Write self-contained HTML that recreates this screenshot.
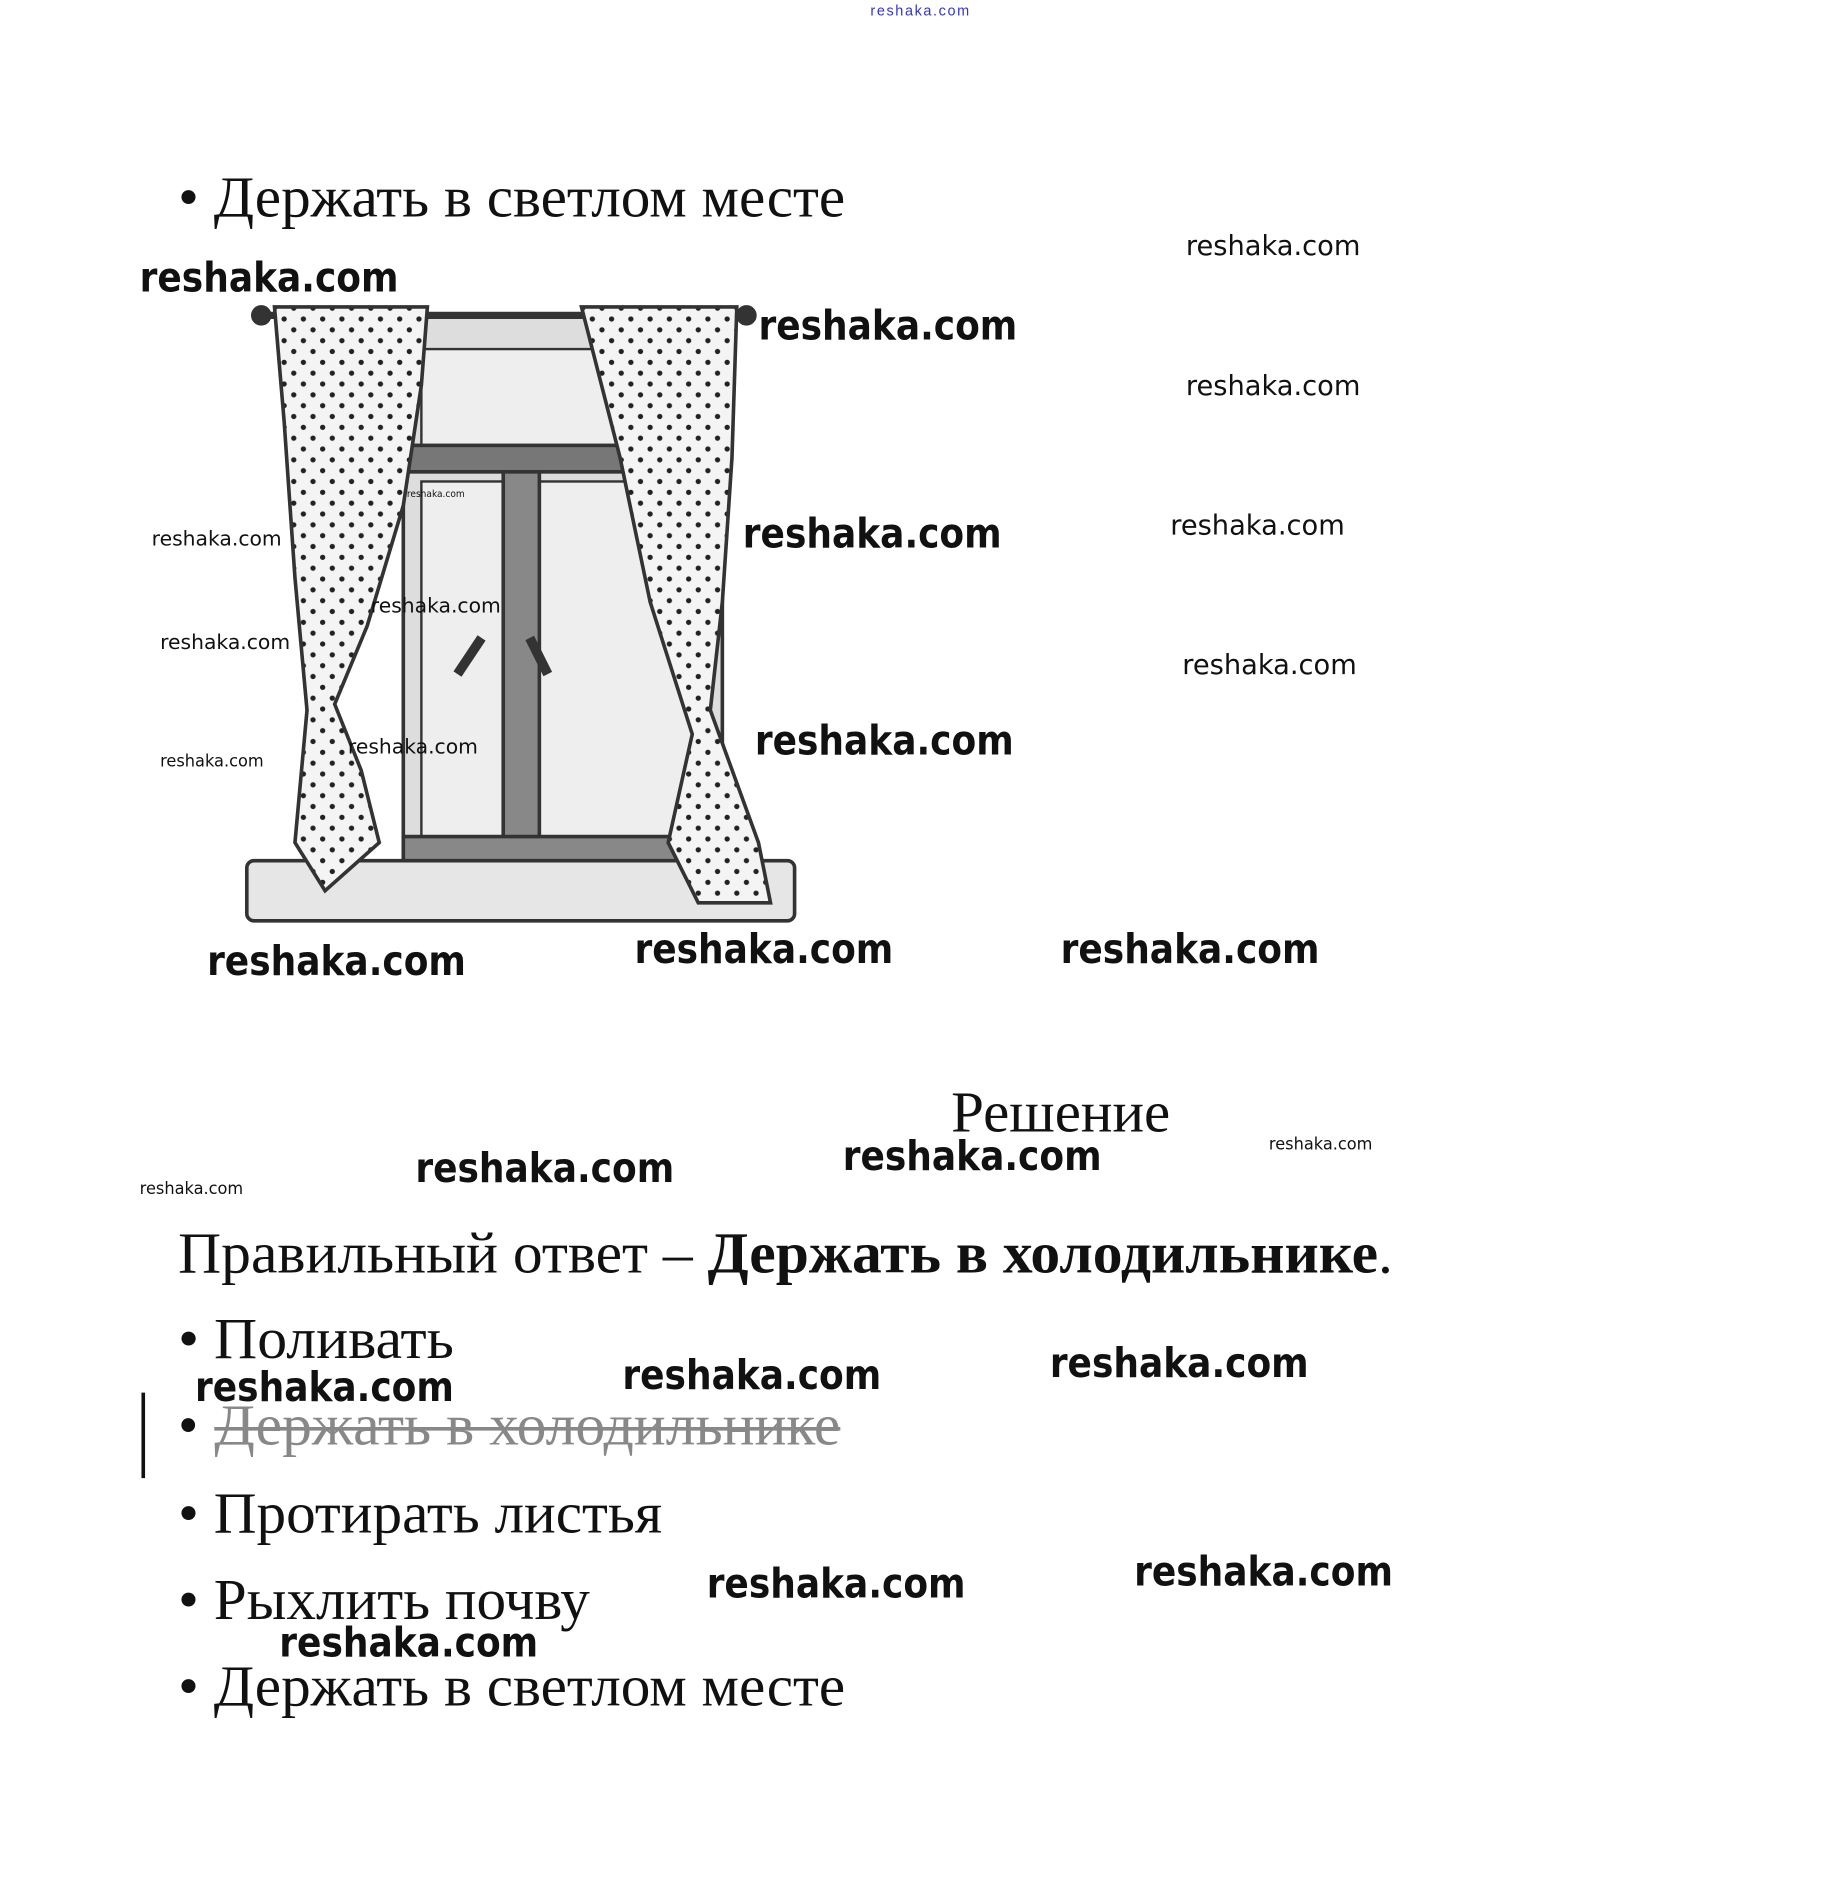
<!DOCTYPE html>
<html><head><meta charset="utf-8"><style>html,body{margin:0;padding:0;background:#fff}svg{display:block}</style></head>
<body>
<svg width="1842" height="1891" viewBox="0 0 1530 1571" preserveAspectRatio="none" xmlns="http://www.w3.org/2000/svg">
<defs>
<pattern id="dots" width="16" height="18" patternUnits="userSpaceOnUse">
<rect width="16" height="18" fill="#f4f4f4"/>
<circle cx="4" cy="4" r="2.2" fill="#222"/><circle cx="12" cy="13" r="2.2" fill="#222"/>
</pattern>
</defs>
<g font-family="'Liberation Sans', sans-serif">
<text x="723" y="13" font-size="12" fill="#3333cc" textLength="82">reshaka.com</text>
</g>
<g font-family="'Liberation Serif','Noto Serif CJK SC',serif" fill="#111">
<text x="148" y="180" font-size="48" textLength="554" lengthAdjust="spacingAndGlyphs">• Держать в светлом месте</text>
</g>
<g stroke="#333" stroke-width="3">
<rect x="335" y="262" width="265" height="450" fill="#ddd"/>
<rect x="350" y="290" width="240" height="80" fill="#eee" stroke-width="2"/>
<rect x="335" y="370" width="265" height="22" fill="#777"/>
<rect x="350" y="400" width="68" height="295" fill="#eee" stroke-width="2"/>
<rect x="448" y="400" width="140" height="295" fill="#eee" stroke-width="2"/>
<rect x="418" y="392" width="30" height="312" fill="#888"/>
<rect x="335" y="695" width="265" height="22" fill="#888"/>
<rect x="205" y="715" width="455" height="50" rx="6" fill="#e6e6e6"/>
<line x1="212" y1="262" x2="625" y2="262" stroke-width="6"/>
<circle cx="217" cy="262" r="7" fill="#333"/><circle cx="620" cy="262" r="7" fill="#333"/>
<path d="M228 255 L355 255 L350 320 L335 420 L305 520 L278 585 L300 640 L315 700 L270 740 L245 700 L255 590 L245 480 L236 350 Z" fill="url(#dots)"/>
<path d="M483 255 L612 255 L608 380 L600 500 L590 590 L630 700 L640 750 L580 750 L555 700 L575 610 L540 500 L515 380 Z" fill="url(#dots)"/>
<path d="M380 560 L400 530 M440 530 L455 560" stroke-width="8"/>
</g>
<g font-family="'Liberation Serif','Noto Serif CJK SC',serif" fill="#111">
<text x="790" y="940" font-size="48" textLength="182" lengthAdjust="spacingAndGlyphs">Решение</text>
<text x="148" y="1057" font-size="48" textLength="1009" lengthAdjust="spacingAndGlyphs">Правильный ответ – <tspan font-weight="bold">Держать в холодильнике</tspan>.</text>
<text x="148" y="1128" font-size="48" textLength="229" lengthAdjust="spacingAndGlyphs">• Поливать</text>
<text x="148" y="1200" font-size="48" fill="#111">•</text>
<text x="178" y="1200" font-size="48" fill="#888" textLength="520" lengthAdjust="spacingAndGlyphs">Держать в холодильнике</text>
<line x1="178" y1="1187" x2="698" y2="1187" stroke="#888" stroke-width="3"/>
<line x1="119" y1="1157" x2="119" y2="1228" stroke="#111" stroke-width="3"/>
<text x="148" y="1273" font-size="48" textLength="402" lengthAdjust="spacingAndGlyphs">• Протирать листья</text>
<text x="148" y="1345" font-size="48" textLength="342" lengthAdjust="spacingAndGlyphs">• Рыхлить почву</text>
<text x="148" y="1417" font-size="48" textLength="554" lengthAdjust="spacingAndGlyphs">• Держать в светлом месте</text>
</g>
<g font-family="'DejaVu Sans', sans-serif" font-weight="bold" fill="#111">
<text x="116" y="242" font-size="34" textLength="215" lengthAdjust="spacingAndGlyphs">reshaka.com</text>
<text x="630" y="282" font-size="34" textLength="215" lengthAdjust="spacingAndGlyphs">reshaka.com</text>
<text x="617" y="455" font-size="34" textLength="215" lengthAdjust="spacingAndGlyphs">reshaka.com</text>
<text x="627" y="627" font-size="34" textLength="215" lengthAdjust="spacingAndGlyphs">reshaka.com</text>
<text x="172" y="810" font-size="34" textLength="215" lengthAdjust="spacingAndGlyphs">reshaka.com</text>
<text x="527" y="800" font-size="34" textLength="215" lengthAdjust="spacingAndGlyphs">reshaka.com</text>
<text x="881" y="800" font-size="34" textLength="215" lengthAdjust="spacingAndGlyphs">reshaka.com</text>
<text x="345" y="982" font-size="34" textLength="215" lengthAdjust="spacingAndGlyphs">reshaka.com</text>
<text x="700" y="972" font-size="34" textLength="215" lengthAdjust="spacingAndGlyphs">reshaka.com</text>
<text x="162" y="1164" font-size="34" textLength="215" lengthAdjust="spacingAndGlyphs">reshaka.com</text>
<text x="517" y="1154" font-size="34" textLength="215" lengthAdjust="spacingAndGlyphs">reshaka.com</text>
<text x="872" y="1144" font-size="34" textLength="215" lengthAdjust="spacingAndGlyphs">reshaka.com</text>
<text x="587" y="1327" font-size="34" textLength="215" lengthAdjust="spacingAndGlyphs">reshaka.com</text>
<text x="942" y="1317" font-size="34" textLength="215" lengthAdjust="spacingAndGlyphs">reshaka.com</text>
<text x="232" y="1376" font-size="34" textLength="215" lengthAdjust="spacingAndGlyphs">reshaka.com</text>
</g>
<g font-family="'DejaVu Sans', sans-serif" fill="#111">
<text x="985" y="212" font-size="23" textLength="145" lengthAdjust="spacingAndGlyphs">reshaka.com</text>
<text x="985" y="328" font-size="23" textLength="145" lengthAdjust="spacingAndGlyphs">reshaka.com</text>
<text x="972" y="444" font-size="23" textLength="145" lengthAdjust="spacingAndGlyphs">reshaka.com</text>
<text x="982" y="560" font-size="23" textLength="145" lengthAdjust="spacingAndGlyphs">reshaka.com</text>
<text x="126" y="453" font-size="17" textLength="108" lengthAdjust="spacingAndGlyphs">reshaka.com</text>
<text x="133" y="539" font-size="17" textLength="108" lengthAdjust="spacingAndGlyphs">reshaka.com</text>
<text x="308" y="509" font-size="17" textLength="108" lengthAdjust="spacingAndGlyphs">reshaka.com</text>
<text x="289" y="626" font-size="17" textLength="108" lengthAdjust="spacingAndGlyphs">reshaka.com</text>
<text x="133" y="637" font-size="14" textLength="86" lengthAdjust="spacingAndGlyphs">reshaka.com</text>
<text x="116" y="992" font-size="14" textLength="86" lengthAdjust="spacingAndGlyphs">reshaka.com</text>
<text x="1054" y="955" font-size="14" textLength="86" lengthAdjust="spacingAndGlyphs">reshaka.com</text>
<text x="338" y="413" font-size="8" textLength="48" lengthAdjust="spacingAndGlyphs">reshaka.com</text>
</g>
</svg>
</body></html>
